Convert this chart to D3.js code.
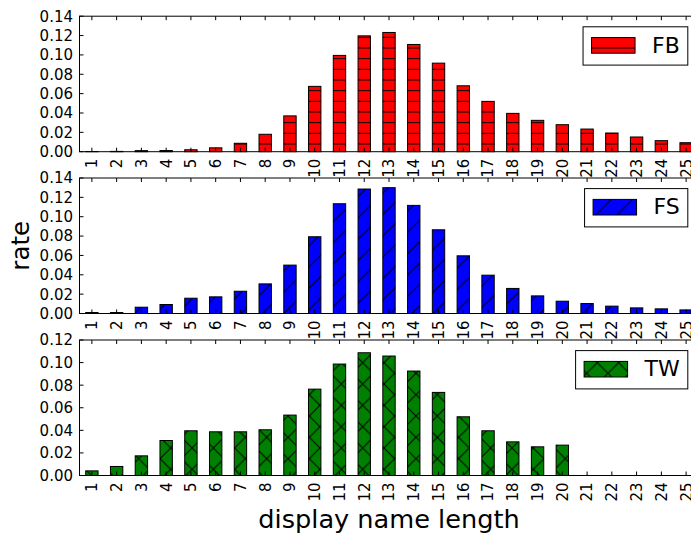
<!DOCTYPE html>
<html><head><meta charset="utf-8">
<script src="https://cdn.jsdelivr.net/npm/d3@7"></script>
<style>
body{margin:0;background:#fff}
svg{display:block}
text{font-family:"DejaVu Sans",sans-serif;fill:#000}
</style>
</head><body>
<svg id="chart" width="691" height="533"></svg>
<script>
// ---- data ----
const categories = ["1","2","3","4","5","6","7","8","9","10","11","12","13","14","15","16","17","18","19","20","21","22","23","24","25"];
const fbValues = [0.0002,0.0003,0.0011,0.0012,0.002,0.004,0.0087,0.018,0.037,0.0675,0.0995,0.1197,0.1232,0.1108,0.0915,0.0681,0.052,0.0396,0.0324,0.0279,0.0234,0.0193,0.0152,0.0114,0.0093];
const fsValues = [0.001,0.001,0.0065,0.0093,0.0158,0.0172,0.023,0.0306,0.05,0.0793,0.1134,0.1286,0.130,0.1117,0.0865,0.0596,0.0396,0.0259,0.0182,0.0127,0.0103,0.0076,0.0058,0.0048,0.0037];
const twValues = [0.0041,0.008,0.0174,0.031,0.0396,0.0387,0.0387,0.0405,0.0535,0.0765,0.0987,0.1087,0.1058,0.0925,0.0736,0.052,0.0396,0.0298,0.0254,0.0269,0,0,0,0,0];
const seriesNames = ["FB","FS","TW"];
const yTicksFB = [0,0.02,0.04,0.06,0.08,0.10,0.12,0.14];
const yTicksFS = [0,0.02,0.04,0.06,0.08,0.10,0.12,0.14];
const yTicksTW = [0,0.02,0.04,0.06,0.08,0.10,0.12];
const xLabel = "display name length";
const yLabel = "rate";

// ---- layout ----
const svg = d3.select("#chart");
const left = 79.5, right = 698.5, panelH = 135.5;
const panels = [
  {name: seriesNames[0], values: fbValues, ticks: yTicksFB, top: 16.2, color: "#ff0000", hatch: "hatch-h"},
  {name: seriesNames[1], values: fsValues, ticks: yTicksFS, top: 178, color: "#0000ff", hatch: "hatch-d"},
  {name: seriesNames[2], values: twValues, ticks: yTicksTW, top: 340, color: "#008000", hatch: "hatch-x"}
];

// hatch patterns
const defs = svg.append("defs");
const hs = 10.667;
defs.append("pattern").attr("id","hatch-h").attr("patternUnits","userSpaceOnUse")
  .attr("width",hs).attr("height",hs)
  .append("path").attr("d",`M-1,5.3H${hs+1}`).attr("stroke","#000").attr("stroke-width",1);
const ds = 21.333;
defs.append("pattern").attr("id","hatch-d").attr("patternUnits","userSpaceOnUse")
  .attr("width",ds).attr("height",ds)
  .append("path").attr("d",`M0,${ds}L${ds},0M-2,2L2,-2M${ds-2},${ds+2}L${ds+2},${ds-2}`)
  .attr("stroke","#000").attr("stroke-width",1);
defs.append("pattern").attr("id","hatch-x").attr("patternUnits","userSpaceOnUse")
  .attr("width",ds).attr("height",ds)
  .append("path").attr("d",`M0,${ds}L${ds},0M-2,2L2,-2M${ds-2},${ds+2}L${ds+2},${ds-2}M0,0L${ds},${ds}M-2,${ds-2}L2,${ds+2}M${ds-2},-2L${ds+2},2`)
  .attr("stroke","#000").attr("stroke-width",1);

const x = d3.scaleBand().domain(categories).range([left, right]).paddingInner(0.5).paddingOuter(0.25);

panels.forEach(p => {
  const bottom = p.top + panelH;
  const y = d3.scaleLinear().domain([0, p.ticks[p.ticks.length-1]]).range([bottom, p.top]);
  const g = svg.append("g");
  // background
  g.append("rect").attr("x",left).attr("y",p.top).attr("width",right-left).attr("height",panelH).attr("fill","#fff");
  const data = categories.map((c,i)=>({c, v:p.values[i]}));
  // bars
  g.selectAll(".bar").data(data).join("rect")
    .attr("x",d=>x(d.c)).attr("width",x.bandwidth())
    .attr("y",d=>y(d.v)).attr("height",d=>y(0)-y(d.v))
    .attr("fill",p.color);
  g.selectAll(".hb").data(data).join("rect")
    .attr("x",d=>x(d.c)).attr("width",x.bandwidth())
    .attr("y",d=>y(d.v)).attr("height",d=>y(0)-y(d.v))
    .attr("fill",`url(#${p.hatch})`).attr("stroke","#000").attr("stroke-width",1);

  // ticks inward
  const tl = 4;
  categories.forEach(c => {
    const cx = x(c) + x.bandwidth()/2;
    g.append("line").attr("x1",cx).attr("x2",cx).attr("y1",bottom).attr("y2",bottom-tl).attr("stroke","#000");
    g.append("line").attr("x1",cx).attr("x2",cx).attr("y1",p.top).attr("y2",p.top+tl).attr("stroke","#000");
  });
  p.ticks.forEach(t => {
    g.append("line").attr("x1",left).attr("x2",left+tl).attr("y1",y(t)).attr("y2",y(t)).attr("stroke","#000");
    g.append("line").attr("x1",right).attr("x2",right-tl).attr("y1",y(t)).attr("y2",y(t)).attr("stroke","#000");
  });
  // spines
  g.append("rect").attr("x",left).attr("y",p.top).attr("width",right-left).attr("height",panelH)
    .attr("fill","none").attr("stroke","#000").attr("stroke-width",1);

  // y tick labels
  g.selectAll(".yl").data(p.ticks).join("text")
    .attr("x",73).attr("y",d=>y(d)).attr("dy","0.36em")
    .attr("text-anchor","end").style("font-size","15px")
    .text(d=>d3.format(".2f")(d));
  // x tick labels rotated
  g.selectAll(".xl").data(categories).join("text")
    .attr("transform",d=>`translate(${x(d)+x.bandwidth()/2},${bottom+7}) rotate(-90)`)
    .attr("dy","0.36em").attr("text-anchor","end").style("font-size","15px")
    .text(d=>d);

  // legend
  const lg = g.append("g");
  const boxRight = right - 10.7, boxTop = p.top + 10.6, boxH = 38.3;
  const txt = lg.append("text").style("font-size","22px").text(p.name);
  const tw = txt.node().getComputedTextLength();
  const boxW = 8.5 + 43.5 + 17 + tw + 8;
  const boxLeft = boxRight - boxW;
  lg.insert("rect","text").attr("x",boxLeft).attr("y",boxTop).attr("width",boxW).attr("height",boxH)
    .attr("fill","#fff").attr("stroke","#000").attr("stroke-width",1);
  const px = boxLeft + 8.5, py = boxTop + 10.8;
  lg.insert("rect","text").attr("x",px).attr("y",py).attr("width",43.5).attr("height",15.6).attr("fill",p.color);
  lg.insert("rect","text").attr("x",px).attr("y",py).attr("width",43.5).attr("height",15.6)
    .attr("fill",`url(#${p.hatch})`).attr("stroke","#000").attr("stroke-width",1);
  txt.attr("x", px + 43.5 + 17).attr("y", boxTop + 25.8);
});

// axis labels
svg.append("text").attr("x",(left+right)/2).attr("y",527.5).attr("text-anchor","middle")
  .style("font-size","25.6px").text(xLabel);
svg.append("text").attr("transform",`translate(28.5,${178+panelH/2}) rotate(-90)`)
  .attr("text-anchor","middle").style("font-size","24.5px").text(yLabel);
</script>
</body></html>
